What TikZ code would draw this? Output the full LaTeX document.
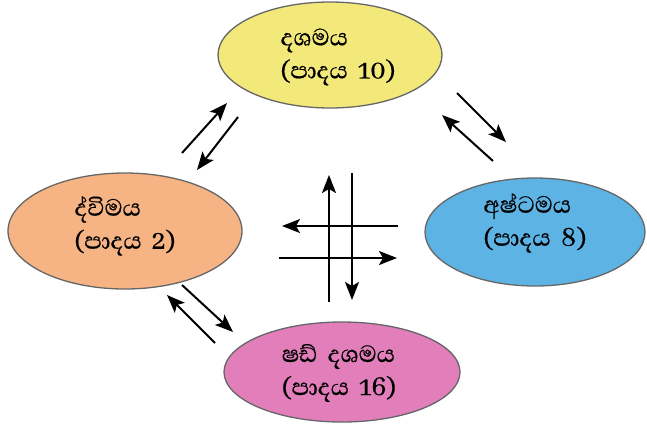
\documentclass[tikz,border=0pt]{standalone}
\usepackage{fontspec}
\newfontfamily\sinhfont[Script=Sinhala,WordSpace=1.8,FakeBold=0.5]{Abhaya Libre}
\usetikzlibrary{shapes.geometric,arrows.meta}
\definecolor{yfill}{RGB}{243,232,122}
\definecolor{ofill}{RGB}{246,179,132}
\definecolor{bfill}{RGB}{93,179,228}
\definecolor{pfill}{RGB}{226,127,187}
\begin{document}
\begin{tikzpicture}[x=1pt,y=-1pt,
  bubble/.style={ellipse, draw=black!60, line width=1.3pt, inner sep=0pt},
  lbl/.style={align=left, font=\sinhfont\fontsize{30}{33}\selectfont, inner sep=0pt},
  arr/.style={line width=2pt, -{Stealth[length=18pt,width=14pt,inset=4pt]}}]
\useasboundingbox (0,0) rectangle (647,424);
% ellipses
\node[bubble, fill=yfill, minimum width=224pt, minimum height=106pt] (dec) at (330,55) {};
\node[bubble, fill=ofill, minimum width=234pt, minimum height=116pt] (bin) at (125,231) {};
\node[bubble, fill=bfill, minimum width=220pt, minimum height=108pt] (oct) at (535,232) {};
\node[bubble, fill=pfill, minimum width=236pt, minimum height=100pt] (hex) at (342,372) {};
% labels
\node[lbl] (tdec) at (338,57) {දශමය\\(පාදය 10)};
\node[lbl] (tbin) at (125,226) {ද්විමය\\(පාදය 2)};
\node[lbl] (toct) at (535,223) {අෂ්ටමය\\(පාදය 8)};
\node[lbl] (thex) at (339,373) {ෂඩ් දශමය\\(පාදය 16)};
% arrow end points
\coordinate (a1s) at (182,153); \coordinate (a1e) at (227,103);
\coordinate (a2s) at (238,117); \coordinate (a2e) at (197,170);
\coordinate (b1s) at (457,93);  \coordinate (b1e) at (506,142);
\coordinate (b2s) at (493,161); \coordinate (b2e) at (442,115);
\coordinate (c1s) at (182,285); \coordinate (c1e) at (233,332);
\coordinate (c2s) at (215,343); \coordinate (c2e) at (167,295);
\coordinate (v1s) at (329,302); \coordinate (v1e) at (329,175);
\coordinate (v2s) at (352,173); \coordinate (v2e) at (352,300);
\coordinate (h1s) at (398,226); \coordinate (h1e) at (282,226);
\coordinate (h2s) at (279,258); \coordinate (h2e) at (397,258);
% arrows
\draw[arr] (a1s) -- (a1e);
\draw[arr] (a2s) -- (a2e);
\draw[arr] (b1s) -- (b1e);
\draw[arr] (b2s) -- (b2e);
\draw[arr] (c1s) -- (c1e);
\draw[arr] (c2s) -- (c2e);
\draw[arr] (v1s) -- (v1e);
\draw[arr] (v2s) -- (v2e);
\draw[arr] (h1s) -- (h1e);
\draw[arr] (h2s) -- (h2e);
\end{tikzpicture}
\end{document}
